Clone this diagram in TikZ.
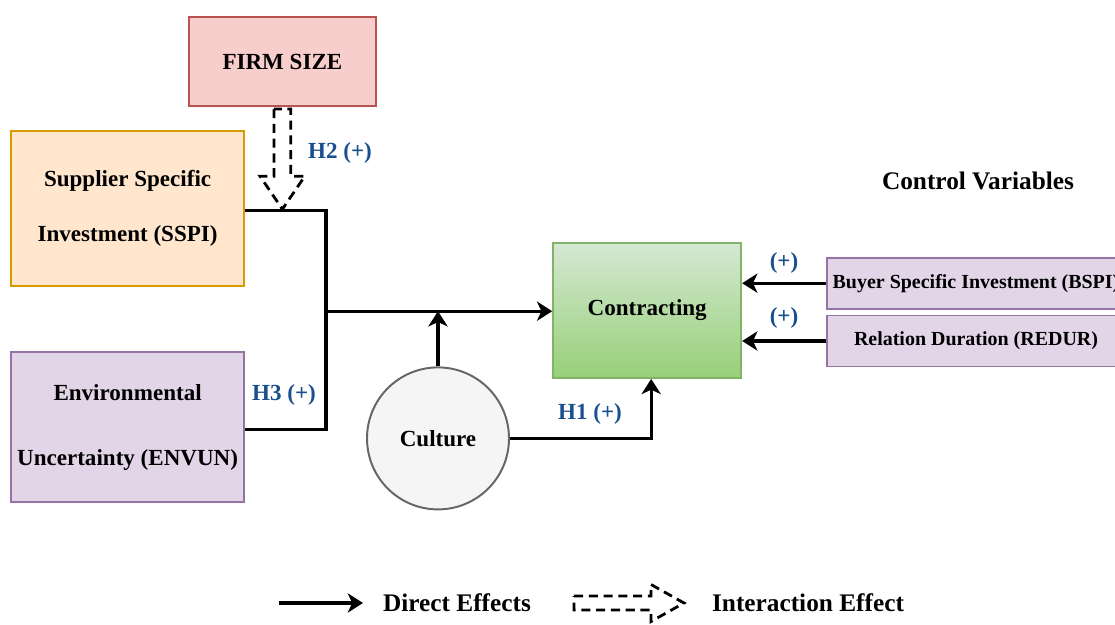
\documentclass[tikz,border=0pt]{standalone}
\usepackage{fontspec}
\setmainfont{Liberation Serif}
\usepackage{xcolor}
\usepackage{tikz}
\usetikzlibrary{arrows.meta, positioning, calc}

\definecolor{hblue}{HTML}{1A4F8F}
\definecolor{redfill}{HTML}{F8CECC}
\definecolor{redline}{HTML}{B85450}
\definecolor{orgfill}{HTML}{FFE6CC}
\definecolor{orgline}{HTML}{D79B00}
\definecolor{purfill}{HTML}{E1D5E7}
\definecolor{purline}{HTML}{9673A6}
\definecolor{grntop}{HTML}{D5E8D4}
\definecolor{grnbot}{HTML}{97D077}
\definecolor{grnline}{HTML}{82B366}
\definecolor{grayfill}{HTML}{F5F5F5}
\definecolor{grayline}{HTML}{666666}

\begin{document}
\begin{tikzpicture}[
    var/.style={draw, line width=1.4pt, align=center, font=\fontsize{16.4}{19}\selectfont\bfseries},
    ctrl/.style={draw=purline, fill=purfill, line width=1.4pt, minimum width=7.45cm, minimum height=1.275cm, font=\fontsize{14.2}{17}\selectfont\bfseries},
    hyp/.style={text=hblue, font=\fontsize{16.4}{19}\selectfont\bfseries},
    effect/.style={line width=2.4pt, -{Stealth[length=0.38cm, width=0.48cm, inset=0.11cm]}},
    link/.style={line width=2.4pt},
    blockdash/.style={line width=2pt, dash pattern=on 6.5pt off 4pt, line join=miter},
    legend/.style={font=\fontsize{18}{21}\selectfont\bfseries},
]
    \useasboundingbox (0,0) rectangle (27.875,-15.625);

    % moderator and predictors
    \node[var, draw=redline, fill=redfill, minimum width=4.675cm, minimum height=2.225cm] (firm) at (7.06,-1.54) {FIRM SIZE};
    \node[var, draw=orgline, fill=orgfill, minimum width=5.825cm, minimum height=3.875cm] (sspi) at (3.19,-5.21) {Supplier Specific\\[20pt]Investment (SSPI)};
    \node[var, draw=purline, fill=purfill, minimum width=5.825cm, minimum height=3.75cm] (envun) at (3.19,-10.68) {Environmental\\[27pt]Uncertainty (ENVUN)};

    % outcome and culture
    \node[var, draw=grnline, top color=grntop, bottom color=grnbot, minimum width=4.7cm, minimum height=3.375cm] (contr) at (16.18,-7.76) {Contracting};
    \node[var, circle, draw=grayline, fill=grayfill, minimum size=3.55cm] (culture) at (10.95,-10.96) {Culture};

    % control variables
    \node[legend] (ctrltitle) at (24.45,-4.52) {Control Variables};
    \node[ctrl] (bspi) at (24.4,-7.08) {Buyer Specific Investment (BSPI)};
    \node[ctrl] (redur) at (24.4,-8.525) {Relation Duration (REDUR)};

    \coordinate (hub) at (8.15,-7.78);

    \draw[link] (sspi.east) ++(0,-0.06) -| (hub);
    \draw[link] (envun.east) ++(0,-0.05) -| (hub);
    \draw[effect] (hub) -- (contr.west |- hub);
    \draw[effect] (culture.north) -- (culture.north |- hub);
    \draw[effect] (culture.east) -| ([xshift=0.1cm]contr.south);
    \draw[effect] (bspi.west) -- (contr.east |- bspi.west);
    \draw[effect] (redur.west) -- (contr.east |- redur.west);

    % interaction of firm size
    \coordinate (fstip) at ($(firm.south |- sspi.east)+(0,-0.02)$);
    \draw[blockdash] ($(firm.south)+(-0.21,-0.05)$) -- ($(fstip)+(-0.21,0.825)$) -- ($(fstip)+(-0.56,0.825)$)
        -- (fstip) -- ($(fstip)+(0.56,0.825)$) -- ($(fstip)+(0.21,0.825)$) -- ($(firm.south)+(0.21,-0.05)$) -- cycle;

    \node[hyp] (h2) at (8.5,-3.825) {H2 (+)};
    \node[hyp] (h3) at (7.1,-9.875) {H3 (+)};
    \node[hyp] (h1) at (14.75,-10.35) {H1 (+)};
    \node[hyp] (cb) at (19.6,-6.575) {(+)};
    \node[hyp] (cr) at (19.6,-7.95) {(+)};

    % legend
    \coordinate (la) at (6.975,-15.075);
    \coordinate (lb) at (9.075,-15.075);
    \draw[effect] (la) -- (lb);
    \node[legend] (ldirect) at (11.425,-15.075) {Direct Effects};
    \coordinate (lc) at (14.35,-15.075);
    \coordinate (ld) at (17.1,-15.075);
    \draw[blockdash] ($(lc)+(0,0.175)$) -- ($(ld)+(-0.825,0.175)$) -- ($(ld)+(-0.825,0.4625)$) -- (ld)
        -- ($(ld)+(-0.825,-0.4625)$) -- ($(ld)+(-0.825,-0.175)$) -- ($(lc)+(0,-0.175)$) -- cycle;
    \node[legend] (linter) at (20.2,-15.075) {Interaction Effect};
\end{tikzpicture}
\end{document}
